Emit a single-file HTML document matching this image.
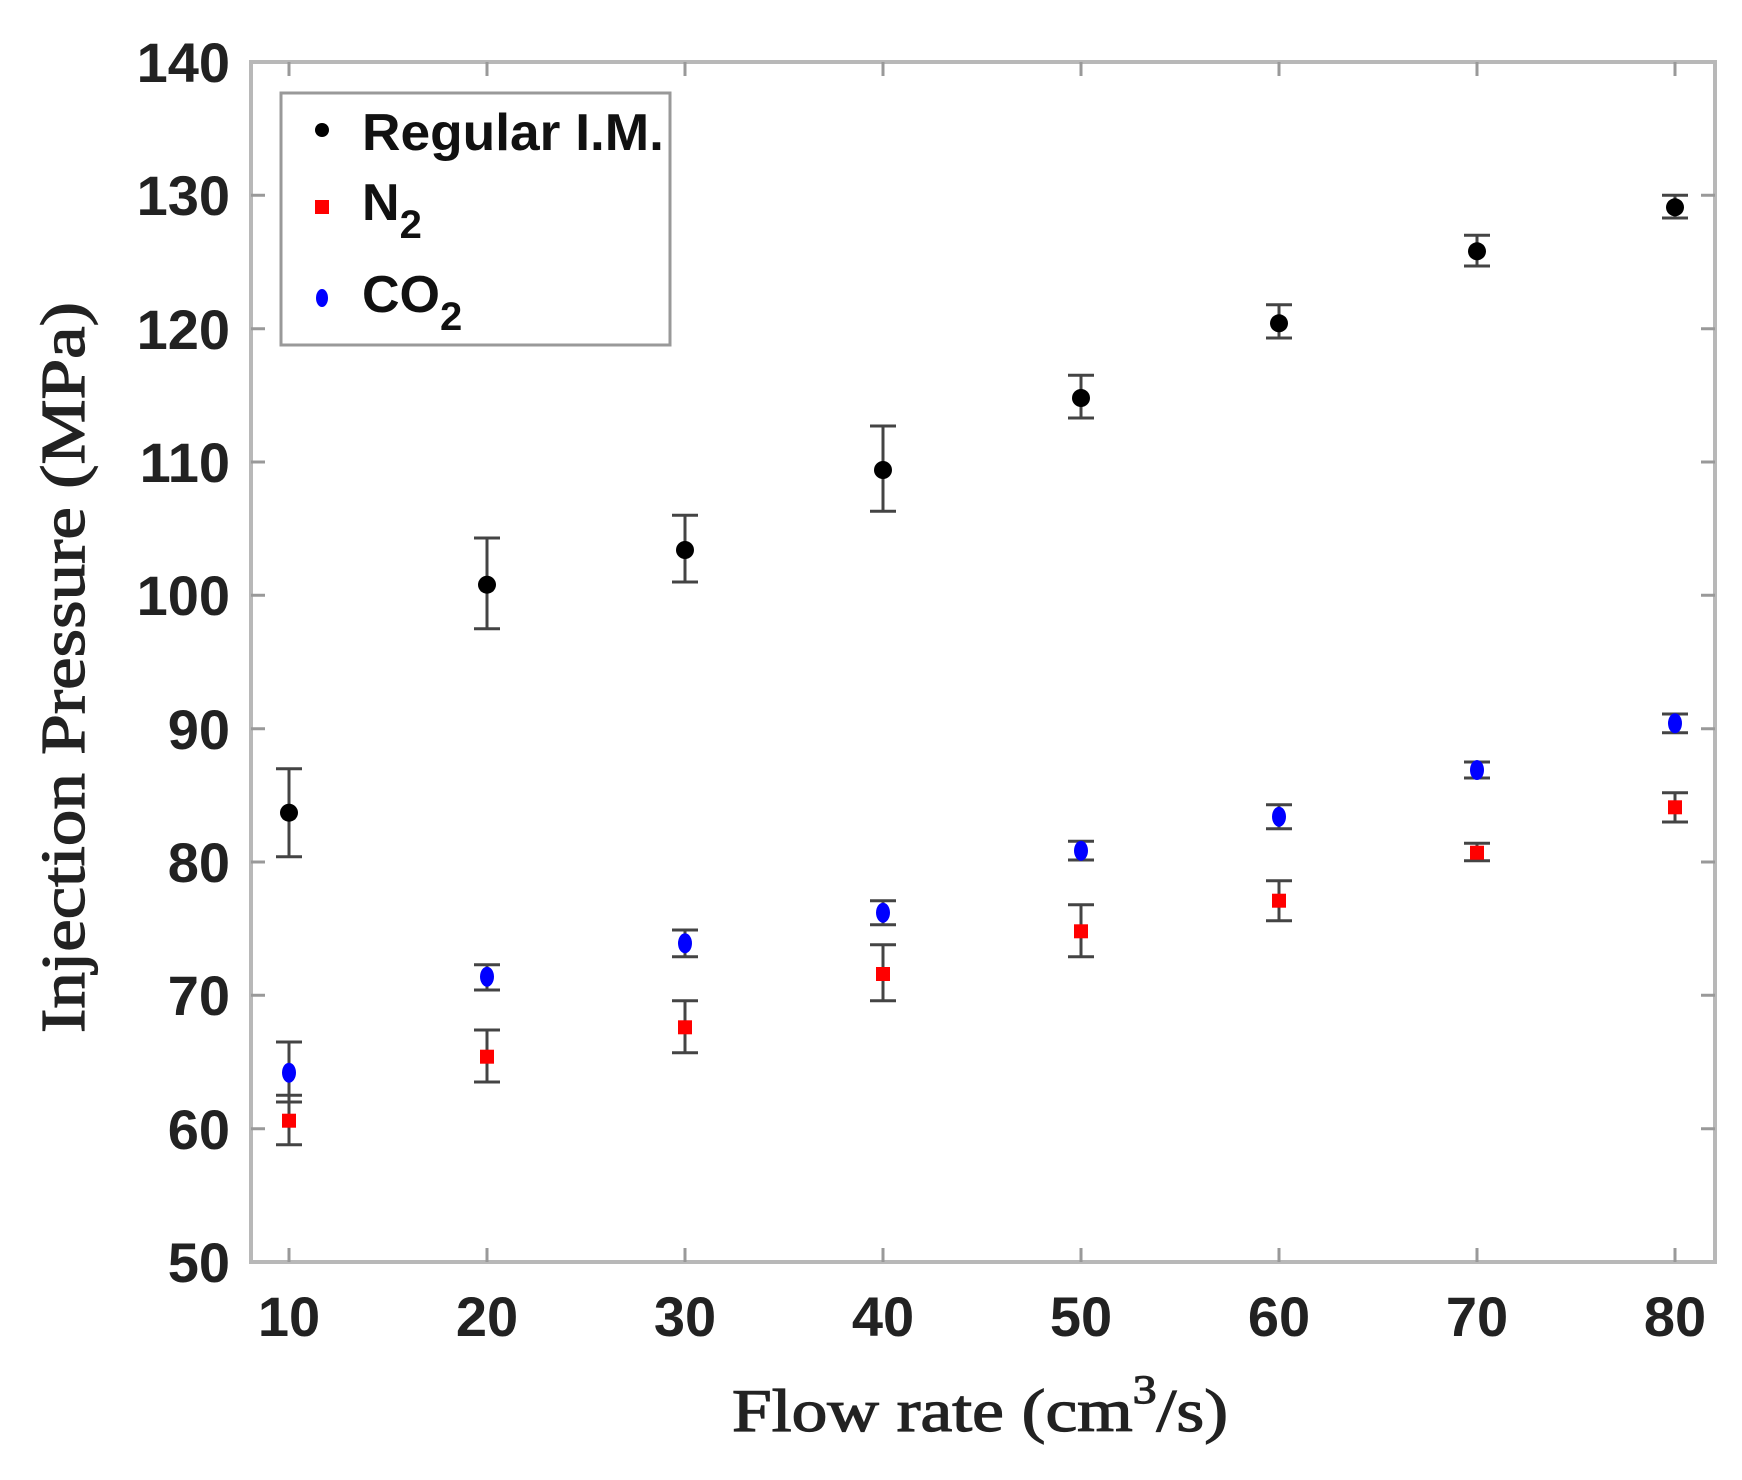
<!DOCTYPE html>
<html><head><meta charset="utf-8"><style>html,body{margin:0;padding:0;background:#fff}</style></head><body>
<svg width="1742" height="1475" viewBox="0 0 1742 1475" xmlns="http://www.w3.org/2000/svg">
<rect width="1742" height="1475" fill="#fff"/>
<g stroke="#b8b8b8" stroke-width="4" fill="none">
<rect x="251" y="62" width="1464" height="1200"/>
</g>
<g stroke="#999" stroke-width="3">
<path d="M289 1262v-14M487 1262v-14M685 1262v-14M883 1262v-14M1081 1262v-14M1279 1262v-14M1477 1262v-14M1675 1262v-14"/>
<path d="M289 62v14M487 62v14M685 62v14M883 62v14M1081 62v14M1279 62v14M1477 62v14M1675 62v14"/>
<path d="M251 195.3h14M251 328.7h14M251 462h14M251 595.3h14M251 728.7h14M251 862h14M251 995.3h14M251 1128.7h14"/>
<path d="M1715 195.3h-14M1715 328.7h-14M1715 462h-14M1715 595.3h-14M1715 728.7h-14M1715 862h-14M1715 995.3h-14M1715 1128.7h-14"/>
</g>
<g font-family="Liberation Sans, Arial, sans-serif" font-weight="bold" font-size="56" fill="#222" text-anchor="end">
<text x="230" y="1282">50</text><text x="230" y="1149">60</text><text x="230" y="1015">70</text><text x="230" y="882">80</text><text x="230" y="749">90</text><text x="230" y="615">100</text><text x="230" y="482">110</text><text x="230" y="349">120</text><text x="230" y="215">130</text><text x="230" y="82">140</text>
</g>
<g font-family="Liberation Sans, Arial, sans-serif" font-weight="bold" font-size="56" fill="#222" text-anchor="middle">
<text x="289" y="1336">10</text><text x="487" y="1336">20</text><text x="685" y="1336">30</text><text x="883" y="1336">40</text><text x="1081" y="1336">50</text><text x="1279" y="1336">60</text><text x="1477" y="1336">70</text><text x="1675" y="1336">80</text>
</g>
<text x="732" y="1431" font-family="Liberation Serif, serif" font-size="60" fill="#222" stroke="#222" stroke-width="1.2" textLength="496" lengthAdjust="spacingAndGlyphs">Flow rate (cm<tspan dy="-28" font-size="40">3</tspan><tspan dy="28">/s)</tspan></text>
<text transform="translate(84,1033) rotate(-90)" font-family="Liberation Serif, serif" font-size="62" fill="#222" stroke="#222" stroke-width="1.2" textLength="731" lengthAdjust="spacingAndGlyphs">Injection Pressure (MPa)</text>
<rect x="281" y="93" width="389" height="252" fill="#fff" stroke="#999" stroke-width="3"/>
<circle cx="322" cy="130" r="7" fill="#000"/>
<rect x="315" y="200" width="14" height="14" fill="#f00"/>
<ellipse cx="322" cy="298" rx="6" ry="9" fill="#00f"/>
<g font-family="Liberation Sans, Arial, sans-serif" font-weight="bold" font-size="52" fill="#111">
<text x="362" y="150" textLength="302" lengthAdjust="spacingAndGlyphs">Regular I.M.</text>
<text x="362" y="220">N<tspan dy="18" font-size="40">2</tspan></text>
<text x="362" y="312">CO<tspan dy="18" font-size="40">2</tspan></text>
</g>
<g stroke="#444" stroke-width="3" fill="none">
<path d="M289 856.7V768.7M276 856.7h26M276 768.7h26M487 628.7V538M474 628.7h26M474 538h26M685 582V515.3M672 582h26M672 515.3h26M883 511.3V426M870 511.3h26M870 426h26M1081 418V375.3M1068 418h26M1068 375.3h26M1279 338V304.7M1266 338h26M1266 304.7h26M1477 266V235.3M1464 266h26M1464 235.3h26M1675 218V195.3M1662 218h26M1662 195.3h26"/>
<path d="M289 1144.7V1095.3M276 1144.7h26M276 1095.3h26M487 1082V1030M474 1082h26M474 1030h26M685 1052.7V1000.7M672 1052.7h26M672 1000.7h26M883 1000.7V944.7M870 1000.7h26M870 944.7h26M1081 956.7V904.7M1068 956.7h26M1068 904.7h26M1279 920.7V880.7M1266 920.7h26M1266 880.7h26M1477 860.7V843.3M1464 860.7h26M1464 843.3h26M1675 822V792.7M1662 822h26M1662 792.7h26"/>
<path d="M289 1102V1042M276 1102h26M276 1042h26M487 990V964.7M474 990h26M474 964.7h26M685 956.7V930M672 956.7h26M672 930h26M883 924.7V900.7M870 924.7h26M870 900.7h26M1081 860V841.3M1068 860h26M1068 841.3h26M1279 828.7V804.7M1266 828.7h26M1266 804.7h26M1477 778V762M1464 778h26M1464 762h26M1675 732.7V714M1662 732.7h26M1662 714h26"/>
</g>
<g fill="#000">
<circle cx="289" cy="812.7" r="9"/><circle cx="487" cy="584.7" r="9"/><circle cx="685" cy="550" r="9"/><circle cx="883" cy="470" r="9"/><circle cx="1081" cy="398" r="9"/><circle cx="1279" cy="323.3" r="9"/><circle cx="1477" cy="251.3" r="9"/><circle cx="1675" cy="207.3" r="9"/>
</g>
<g fill="#f00">
<rect x="282" y="1113.7" width="14" height="14"/><rect x="480" y="1049.7" width="14" height="14"/><rect x="678" y="1020.3" width="14" height="14"/><rect x="876" y="967" width="14" height="14"/><rect x="1074" y="924.3" width="14" height="14"/><rect x="1272" y="893.7" width="14" height="14"/><rect x="1470" y="845.7" width="14" height="14"/><rect x="1668" y="800.3" width="14" height="14"/>
</g>
<g fill="#00f">
<ellipse cx="289" cy="1072.7" rx="7" ry="10"/><ellipse cx="487" cy="976.7" rx="7" ry="10"/><ellipse cx="685" cy="943.3" rx="7" ry="10"/><ellipse cx="883" cy="912.7" rx="7" ry="10"/><ellipse cx="1081" cy="850.7" rx="7" ry="10"/><ellipse cx="1279" cy="816.7" rx="7" ry="10"/><ellipse cx="1477" cy="770" rx="7" ry="10"/><ellipse cx="1675" cy="723.3" rx="7" ry="10"/>
</g>
</svg>
</body></html>
